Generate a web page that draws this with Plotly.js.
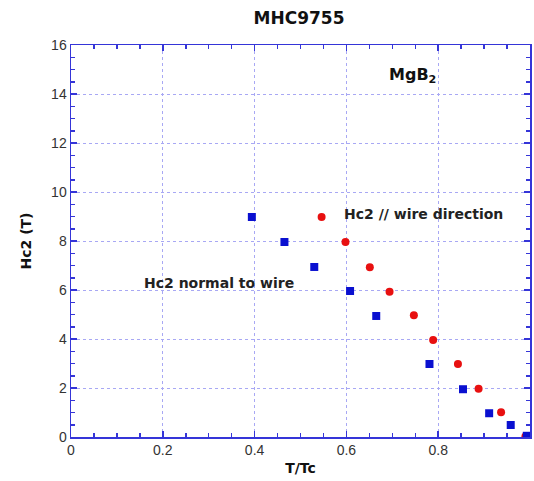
<!DOCTYPE html>
<html><head><meta charset="utf-8">
<script src="https://cdn.plot.ly/plotly-3.0.1.min.js"></script>
<style>body{margin:0;background:#fff}#c{width:534px;height:481px}</style>
</head><body><div id="c"></div>
<script>
const normalX = [0.394, 0.465, 0.53, 0.608, 0.665, 0.781, 0.854, 0.911, 0.958, 0.993];
const normalY = [8.98, 7.96, 6.94, 5.96, 4.94, 2.98, 1.95, 0.97, 0.49, 0.05];
const parallelX = [0.546, 0.598, 0.651, 0.694, 0.747, 0.789, 0.843, 0.888, 0.937, 0.99];
const parallelY = [8.98, 7.96, 6.93, 5.93, 4.97, 3.96, 2.98, 1.97, 1.01, 0.02];
const axisColor = '#3535d8';
const gridColor = '#a8a8f4';
const boldFont = 'DejaVu Sans, Liberation Sans, Arial, sans-serif';

const traces = [
  {x: parallelX, y: parallelY, mode: 'markers', type: 'scatter', name: 'Hc2 // wire direction',
   marker: {symbol: 'circle', size: 8, color: '#e81010'}},
  {x: normalX, y: normalY, mode: 'markers', type: 'scatter', name: 'Hc2 normal to wire',
   marker: {symbol: 'square', size: 8, color: '#0a10d0'}}
];
const axisCommon = {
  showline: true, linecolor: axisColor, linewidth: 1.5, mirror: 'allticks',
  ticks: 'inside', ticklen: 6, tickcolor: axisColor, tickwidth: 1.5,
  showgrid: true, gridcolor: gridColor, griddash: 'dot', gridwidth: 1,
  zeroline: false,
  tickfont: {family: 'Liberation Sans, Arial, sans-serif', size: 14, color: '#333'}
};
const layout = {
  width: 534, height: 481,
  margin: {l: 70.5, r: 3.5, t: 45, b: 44},
  paper_bgcolor: '#fff', plot_bgcolor: '#fff',
  showlegend: false,
  font: {family: boldFont},
  title: {text: '<b>MHC9755</b>', x: 0.56, xanchor: 'center', y: 0.962, yanchor: 'middle',
          font: {family: boldFont, size: 17, color: '#111'}},
  xaxis: Object.assign({}, axisCommon, {
    range: [0, 1], dtick: 0.2, tick0: 0,
    minor: {dtick: 0.05, ticks: 'inside', ticklen: 4, tickcolor: axisColor, showgrid: false},
    title: {text: '<b>T/Tc</b>', font: {family: boldFont, size: 14, color: '#111'}, standoff: 6}
  }),
  yaxis: Object.assign({}, axisCommon, {
    range: [0, 16], dtick: 2, tick0: 0,
    minor: {dtick: 0.5, ticks: 'inside', ticklen: 4, tickcolor: axisColor, showgrid: false},
    title: {text: '<b>Hc2 (T)</b>', font: {family: boldFont, size: 14, color: '#111'}, standoff: 16}
  }),
  annotations: [
    {x: 0.745, y: 14.75, xref: 'x', yref: 'y', text: '<b>MgB<sub>2</sub></b>', showarrow: false,
     font: {family: boldFont, size: 16, color: '#111'}, xanchor: 'center'},
    {x: 0.59, y: 9.1, xref: 'x', yref: 'y', text: '<b>Hc2 // wire direction</b>', showarrow: false,
     font: {family: boldFont, size: 14, color: '#222'}, xanchor: 'left'},
    {x: 0.155, y: 6.3, xref: 'x', yref: 'y', text: '<b>Hc2 normal to wire</b>', showarrow: false,
     font: {family: boldFont, size: 14, color: '#222'}, xanchor: 'left'}
  ]
};
Plotly.newPlot('c', traces, layout, {displayModeBar: false, staticPlot: true});
</script>
</body></html>
